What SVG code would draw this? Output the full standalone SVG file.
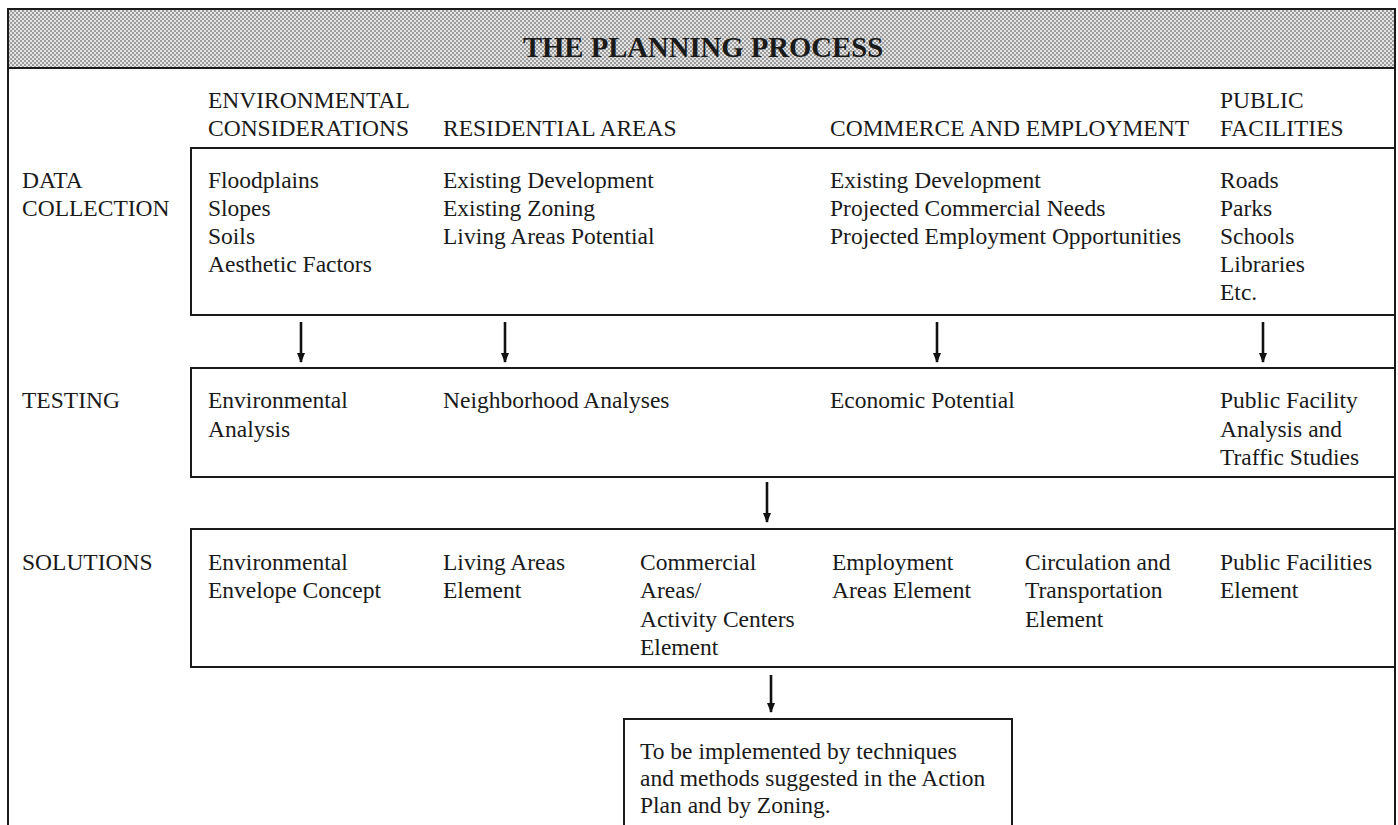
<svg xmlns="http://www.w3.org/2000/svg" width="1398" height="825" viewBox="0 0 1398 825">
<defs>
<pattern id="dots" width="4" height="4" patternUnits="userSpaceOnUse">
<rect width="4" height="4" fill="#e4e4e4"/>
<circle cx="1" cy="1" r="0.9" fill="#7a7a7a"/>
<circle cx="3" cy="3" r="0.9" fill="#7a7a7a"/>
</pattern>
<marker id="ah" viewBox="0 0 10 10" refX="9" refY="5" markerWidth="10" markerHeight="10" markerUnits="userSpaceOnUse" orient="auto">
<path d="M0,1 L10,5 L0,9 Z" fill="#111"/>
</marker>
<style>
text{font-family:"Liberation Serif","Times New Roman",serif;font-size:23.5px;fill:#1a1a1a}
.title{font-weight:bold;font-size:28.7px;text-anchor:middle}
.box{fill:none;stroke:#1a1a1a;stroke-width:2}
.arr{stroke:#111;stroke-width:2.6;fill:none;marker-end:url(#ah)}
</style>
</defs>
<rect width="1398" height="825" fill="#fff"/>

<g id="frame">
<rect x="8" y="9" width="1387" height="59" fill="url(#dots)"/>
<path class="box" d="M8,825 V9 H1395 V825 M8,68 H1395"/>
<text class="title" x="703" y="57">THE PLANNING PROCESS</text>
</g>

<g id="headers">
<text x="208" y="108">ENVIRONMENTAL</text>
<text x="208" y="136">CONSIDERATIONS</text>
<text x="443" y="136">RESIDENTIAL AREAS</text>
<text x="830" y="136">COMMERCE AND EMPLOYMENT</text>
<text x="1220" y="108">PUBLIC</text>
<text x="1220" y="136">FACILITIES</text>
</g>

<g id="data-collection">
<rect class="box" x="191" y="148" width="1204" height="167"/>
<text x="22" y="188">DATA</text>
<text x="22" y="216">COLLECTION</text>
<text x="208" y="188">Floodplains</text>
<text x="208" y="216">Slopes</text>
<text x="208" y="244">Soils</text>
<text x="208" y="272">Aesthetic Factors</text>
<text x="443" y="188">Existing Development</text>
<text x="443" y="216">Existing Zoning</text>
<text x="443" y="244">Living Areas Potential</text>
<text x="830" y="188">Existing Development</text>
<text x="830" y="216">Projected Commercial Needs</text>
<text x="830" y="244">Projected Employment Opportunities</text>
<text x="1220" y="188">Roads</text>
<text x="1220" y="216">Parks</text>
<text x="1220" y="244">Schools</text>
<text x="1220" y="272">Libraries</text>
<text x="1220" y="300">Etc.</text>
</g>

<g id="testing">
<rect class="box" x="191" y="368" width="1204" height="109"/>
<text x="22" y="408">TESTING</text>
<text x="208" y="408">Environmental</text>
<text x="208" y="437">Analysis</text>
<text x="443" y="408">Neighborhood Analyses</text>
<text x="830" y="408">Economic Potential</text>
<text x="1220" y="408">Public Facility</text>
<text x="1220" y="437">Analysis and</text>
<text x="1220" y="465">Traffic Studies</text>
</g>

<g id="solutions">
<rect class="box" x="191" y="529" width="1204" height="138"/>
<text x="22" y="570">SOLUTIONS</text>
<text x="208" y="570">Environmental</text>
<text x="208" y="598">Envelope Concept</text>
<text x="443" y="570">Living Areas</text>
<text x="443" y="598">Element</text>
<text x="640" y="570">Commercial</text>
<text x="640" y="598">Areas/</text>
<text x="640" y="627">Activity Centers</text>
<text x="640" y="655">Element</text>
<text x="832" y="570">Employment</text>
<text x="832" y="598">Areas Element</text>
<text x="1025" y="570">Circulation and</text>
<text x="1025" y="598">Transportation</text>
<text x="1025" y="627">Element</text>
<text x="1220" y="570">Public Facilities</text>
<text x="1220" y="598">Element</text>
</g>

<g id="implementation">
<path class="box" d="M624,825 V719 H1012 V825"/>
<text x="640" y="759">To be implemented by techniques</text>
<text x="640" y="786">and methods suggested in the Action</text>
<text x="640" y="813">Plan and by Zoning.</text>
</g>

<g id="connectors">
<line class="arr" x1="301" y1="322" x2="301" y2="362"/>
<line class="arr" x1="505" y1="322" x2="505" y2="362"/>
<line class="arr" x1="937" y1="322" x2="937" y2="362"/>
<line class="arr" x1="1263" y1="322" x2="1263" y2="362"/>
<line class="arr" x1="767" y1="482" x2="767" y2="522"/>
<line class="arr" x1="771" y1="675" x2="771" y2="712"/>
</g>
</svg>
